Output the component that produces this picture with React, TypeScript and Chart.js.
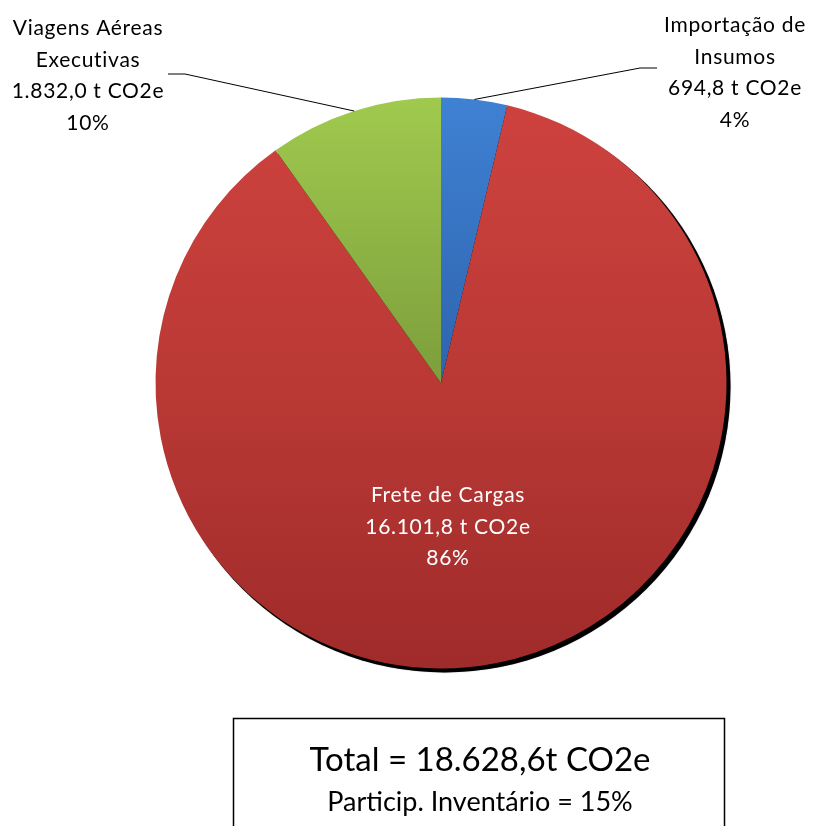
import React, { useEffect, useRef } from "react";
import { Chart, registerables } from "chart.js";

Chart.register(...registerables);

const categories = ["Importação de Insumos", "Frete de Cargas", "Viagens Aéreas Executivas"];
const labelLines = [["Importação de", "Insumos"], ["Frete de Cargas"], ["Viagens Aéreas", "Executivas"]];
const values = [694.8, 16101.8, 1832.0];
const totalLabel = "Total = 18.628,6t CO2e";
const participLabel = "Particip. Inventário = 15%";

const gradientStops = [
  ["#3f81d3", "#2e64ae", "#1f4a85"],
  ["#ce423e", "#ba3935", "#9f2b2a"],
  ["#a0ca4e", "#7d9e3c", "#5f7a2b"],
];

const FONT = "Lato, 'Open Sans', sans-serif";

function fmt(v: number): string {
  const fixed = v.toFixed(1);
  const [intPart, dec] = fixed.split(".");
  const withDots = intPart.replace(/\B(?=(\d{3})+(?!\d))/g, ".");
  return withDots + "," + dec;
}

const total = values.reduce((a, b) => a + b, 0);

const labelPlugin = {
  id: "customLabels",
  beforeDatasetsDraw(chart: any) {
    const meta = chart.getDatasetMeta(0);
    const el = meta.data[0];
    if (!el) return;
    const ctx = chart.ctx;
    ctx.save();
    ctx.beginPath();
    ctx.arc(el.x + 3.5, el.y + 3.5, el.outerRadius + 0.5, 0, Math.PI * 2);
    ctx.fillStyle = "#000";
    ctx.shadowColor = "rgba(0,0,0,0.5)";
    ctx.shadowBlur = 1;
    ctx.fill();
    ctx.restore();
  },
  afterDraw(chart: any) {
    const ctx = chart.ctx;
    const meta = chart.getDatasetMeta(0);
    const pts = meta.data.map((el: any) => {
      const mid = (el.startAngle + el.endAngle) / 2;
      return { x: el.x + Math.cos(mid) * el.outerRadius, y: el.y + Math.sin(mid) * el.outerRadius, cx: el.x, cy: el.y, r: el.outerRadius };
    });
    ctx.save();
    // leader lines
    ctx.strokeStyle = "#000";
    ctx.lineWidth = 1;
    const leaders: Record<number, number[][]> = {
      0: [[640, 68], [657, 68]],
      2: [[185, 74], [168, 74]],
    };
    Object.keys(leaders).forEach((k) => {
      const i = Number(k);
      ctx.beginPath();
      ctx.moveTo(pts[i].x, pts[i].y);
      leaders[i].forEach((p) => ctx.lineTo(p[0], p[1]));
      ctx.stroke();
    });

    const anchors: Record<number, { x: number; y: number; color: string }> = {
      0: { x: 735, y: 32, color: "#000" },
      1: { x: pts[1].cx + 7, y: pts[1].cy + 119, color: "#fff" },
      2: { x: 88, y: 35, color: "#000" },
    };
    ctx.font = `21px ${FONT}`;
    ctx.textAlign = "center";
    ctx.textBaseline = "alphabetic";
    (ctx as any).letterSpacing = "0.7px";
    for (let i = 0; i < values.length; i++) {
      const a = anchors[i];
      const lines = [...labelLines[i], fmt(values[i]) + " t CO2e", Math.round((values[i] / total) * 100) + "%"];
      ctx.fillStyle = a.color;
      lines.forEach((ln, j) => ctx.fillText(ln, a.x, a.y + j * 31.7));
    }
    (ctx as any).letterSpacing = "0px";

    // total box
    ctx.strokeStyle = "#000";
    ctx.lineWidth = 1.5;
    ctx.strokeRect(233.5, 718.5, 491, 140);
    ctx.fillStyle = "#000";
    ctx.font = `33px ${FONT}`;
    ctx.fillText(totalLabel, 480, 771);
    ctx.font = `27px ${FONT}`;
    ctx.fillText(participLabel, 480, 811);
    ctx.restore();
  },
};

export default function App() {
  const ref = useRef<HTMLCanvasElement | null>(null);
  useEffect(() => {
    if (!ref.current) return;
    const chart = new Chart(ref.current, {
      type: "pie",
      data: {
        labels: categories,
        datasets: [
          {
            data: values,
            borderWidth: 0,
            hoverOffset: 0,
            backgroundColor: (c: any) => {
              const ch = c.chart;
              const area = ch.chartArea;
              const stops = gradientStops[c.dataIndex % gradientStops.length];
              if (!area) return stops[1];
              const g = ch.ctx.createLinearGradient(0, area.top, 0, area.bottom);
              g.addColorStop(0, stops[0]);
              g.addColorStop(0.5, stops[1]);
              g.addColorStop(1, stops[2]);
              return g;
            },
          },
        ],
      },
      options: {
        responsive: false,
        animation: false,
        layout: { padding: { left: 155.5, right: 86.5, top: 97.5, bottom: 157.5 } },
        plugins: { legend: { display: false }, tooltip: { enabled: false } },
      },
      plugins: [labelPlugin],
    });
    return () => chart.destroy();
  }, []);
  return (
    <div style={{ position: "absolute", left: 0, top: 0, width: 813, height: 826, background: "#fff", overflow: "hidden" }}>
      <canvas ref={ref} width={813} height={826} />
    </div>
  );
}
